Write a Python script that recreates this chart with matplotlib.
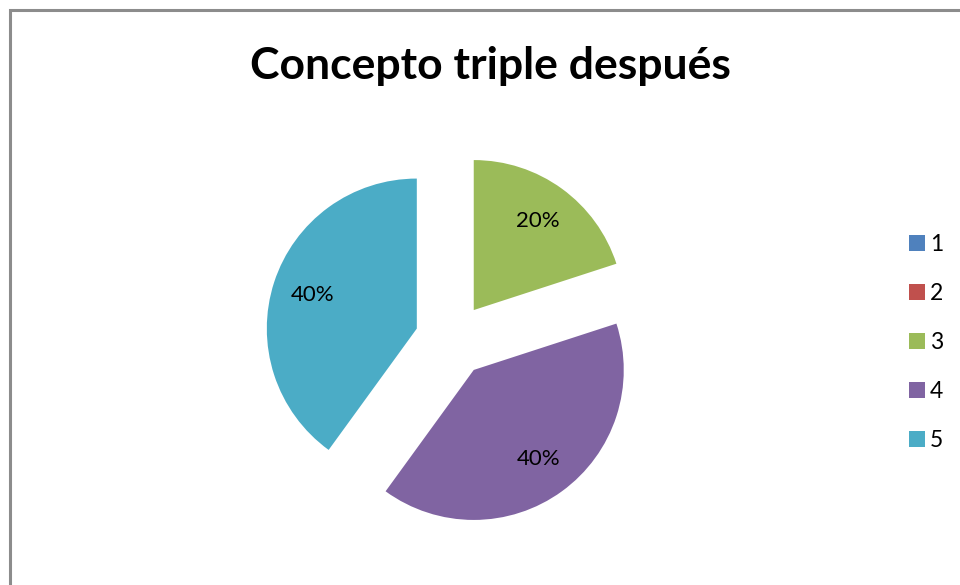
import matplotlib.pyplot as plt

plt.rcParams['font.family'] = ['Lato', 'DejaVu Sans']

categories = ['1', '2', '3', '4', '5']
values = [0, 0, 20, 40, 40]
colors = ['#4F81BD', '#C0504D', '#9BBB59', '#8064A2', '#4BACC6']
title = 'Concepto triple después'

W, H = 960, 585
fig = plt.figure(figsize=(W / 100, H / 100), dpi=100)
ax = fig.add_axes([0, 0, 1, 1])

# chart-area frame, running off the right and bottom edges
ax.plot([10, 10, W + 5], [-5, H - 10, H - 10], color='#8c8c8c', lw=2.2,
        solid_joinstyle='miter', clip_on=False)

radius = 150
wedges, texts, autotexts = ax.pie(
    values, colors=colors, startangle=90, counterclock=False,
    radius=radius, center=(452, H - 340), explode=[37] * len(values),
    autopct=lambda p: f'{p:.0f}%' if p > 0 else '', pctdistance=0.73,
    wedgeprops=dict(linewidth=0), textprops=dict(fontsize=16, color='black'),
    frame=True)
ax.set_xlim(0, W)
ax.set_ylim(0, H)
ax.set_aspect('equal')
ax.axis('off')

fig.text(490 / W, 1 - 66 / H, title, ha='center', va='center',
         fontsize=32, fontweight='bold')

leg = ax.legend(wedges, categories, loc='upper left', bbox_to_anchor=(909 / W, 1 - 234 / H),
                frameon=False, fontsize=16.5, handlelength=0.7, handleheight=0.7,
                handletextpad=0.2, labelspacing=1.22, borderpad=0, borderaxespad=0)

fig.savefig('out.png', dpi=100, facecolor='white')
